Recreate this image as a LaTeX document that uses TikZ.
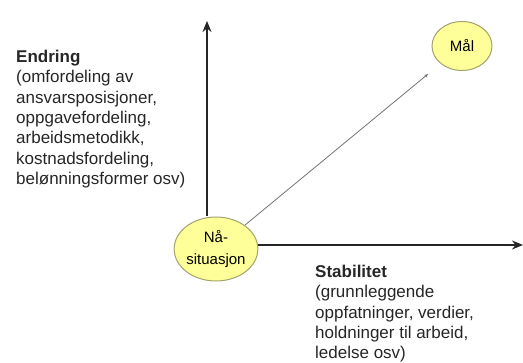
\documentclass[tikz,border=0pt]{standalone}
\usepackage{fontspec}
\setmainfont{Liberation Sans}
\usetikzlibrary{arrows.meta, shapes.geometric}

\definecolor{circfill}{HTML}{FFFF99}
\definecolor{circline}{HTML}{A3A36E}

\begin{document}
\begin{tikzpicture}[
    x=1pt, y=-1pt,
    circ/.style={ellipse, draw=circline, line width=1pt, fill=circfill, inner sep=0pt, align=center,
                 font=\fontsize{15}{22}\selectfont},
    axis/.style={->, line width=2.2pt, draw=black!85},
    label/.style={anchor=north west, inner sep=0pt, align=left, text=black!85},
    >={Stealth[length=11pt, width=9pt]},
    font=\fontsize{17}{20.3}\selectfont
]
    \useasboundingbox (0,0) rectangle (523,363);

    % endepunkter for aksene
    \coordinate (ytop) at (207, 21);
    \coordinate (xend) at (523, 245);

    % sirkler
    \node[circ, minimum width=81pt, minimum height=64pt] (naa) at (216, 249) {Nå-\\situasjon};
    \node[circ, minimum width=60pt, minimum height=49pt] (maal) at (462, 46) {Mål};

    % aksene
    \draw[axis] (naa.north -| ytop) -- (ytop);
    \draw[axis] (naa.east |- xend) -- (xend);

    % linje mot målet
    \draw[-{Stealth[length=4pt, width=3pt]}, line width=0.8pt, draw=black!55, shorten >=16pt] (naa) -- (maal);

    % tekster
    \node[label] (endring) at (16, 50) {\textbf{Endring}\\(omfordeling av\\ansvarsposisjoner,\\oppgavefordeling,\\arbeidsmetodikk,\\kostnadsfordeling,\\belønningsformer osv)};
    \node[label] (stabilitet) at (315, 265) {\textbf{Stabilitet}\\(grunnleggende\\oppfatninger, verdier,\\holdninger til arbeid,\\ledelse osv)};

\end{tikzpicture}
\end{document}
